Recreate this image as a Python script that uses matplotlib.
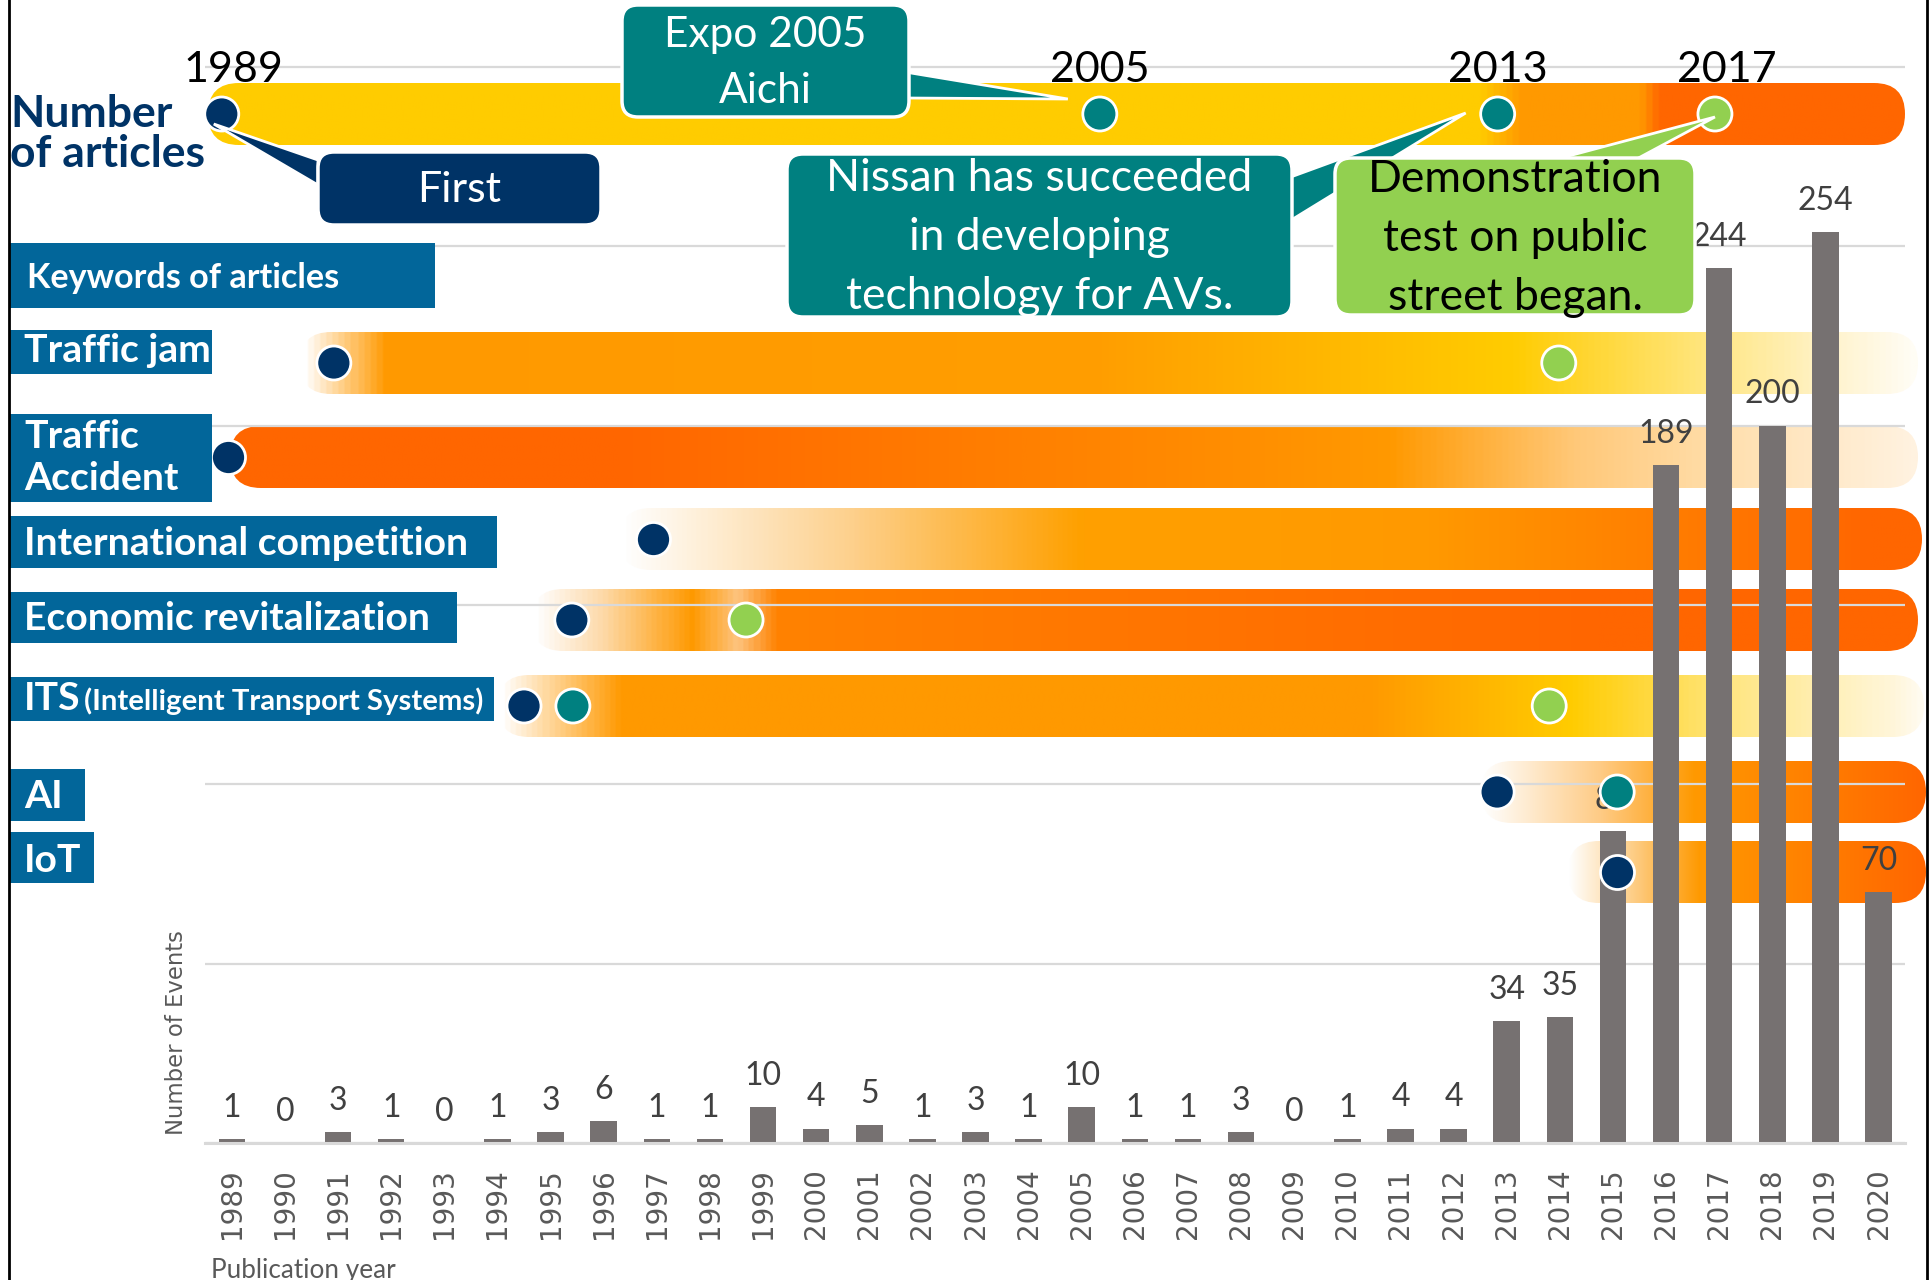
import matplotlib.pyplot as plt
import numpy as np
from matplotlib.patches import FancyBboxPatch, Rectangle, Polygon
from matplotlib.colors import LinearSegmentedColormap

plt.rcParams['font.family'] = ['Lato', 'DejaVu Sans']

# bar data: number of articles per publication year
years = list(range(1989, 2021))
counts = [1, 0, 3, 1, 0, 1, 3, 6, 1, 1, 10, 4, 5, 1, 3, 1, 10, 1, 1, 3, 0, 1, 4, 4,
          34, 35, 87, 189, 244, 200, 254, 70]

# timeline events (position on the year axis)
article_events = [1988.81, 2005.34, 2012.83, 2016.92]
article_kinds = ['first', 'event', 'event', 'demo']
article_labels = ['1989', '2005', '2013', '2017']

keyword_names = ['Traffic jam', 'Traffic\nAccident', 'International competition',
                 'Economic revitalization', 'ITS', 'AI', 'IoT']
keyword_events = [
    [1990.92, 2013.98],
    [1988.93],
    [1996.93],
    [1995.40, 1998.68],
    [1994.50, 1995.42, 2013.80],
    [2012.82, 2015.08],
    [2015.08],
]
keyword_kinds = [
    ['first', 'demo'],
    ['first'],
    ['first'],
    ['first', 'demo'],
    ['first', 'event', 'demo'],
    ['first', 'event'],
    ['first'],
]

NAVY = '#003366'
TEAL = '#008080'
GREEN = '#92D050'
BLUE = '#02669A'
YEL = '#FFCC00'
ORA = '#FF9900'
DARK = '#FF6600'
WHITE = '#FFFFFF'
KIND_COL = {'first': NAVY, 'event': TEAL, 'demo': GREEN}

W, H = 1932, 1280
fig = plt.figure(figsize=(W / 100, H / 100), dpi=100)


def frame_axes(z):
    a = fig.add_axes([0, 0, 1, 1], zorder=z)
    a.axis('off')
    return a


under = frame_axes(0)
ax = fig.add_axes([205.3 / W, 1 - 1143 / H, 1699.8 / W, 1143 / H], zorder=1)
over = frame_axes(2)

# ---- bar chart ----
ax.patch.set_visible(False)
ax.bar(years, counts, width=0.5, color='#767171', zorder=2)
ax.set_xlim(1988.5, 2020.5)
ax.set_ylim(0, 318.65)
ax.set_yticks(range(0, 301, 50))
ax.yaxis.grid(True, color='#D9D9D9', lw=1.6)
ax.set_axisbelow(True)
ax.tick_params(axis='y', length=0, labelleft=False)
ax.set_xticks(years)
ax.set_xticklabels([str(y) for y in years], rotation=90, fontsize=20,
                   color='#595959', family='DejaVu Sans')
ax.tick_params(axis='x', length=0, pad=18)
for s in ['top', 'right', 'left']:
    ax.spines[s].set_visible(False)
ax.spines['bottom'].set_color('#D9D9D9')
ax.spines['bottom'].set_linewidth(2.2)
for yr, c in zip(years, counts):
    ax.annotate(str(c), (yr, c), xytext=(0, 16), textcoords='offset points',
                ha='center', va='baseline', fontsize=23, color='#404040')
ax.set_ylabel('Number of Events', fontsize=16.4, color='#595959', family='DejaVu Sans')
ax.yaxis.set_label_coords(-0.0102, 0.097)
ax.set_xlabel('Publication year', fontsize=18.8, color='#595959', ha='left')
ax.xaxis.set_label_coords(0.0034, -0.1006)


def px(yr):
    return ax.transData.transform((yr, 0))[0]


# ---- gradient bands ----
def band(x0, x1, yc, stops, h=62):
    cmap = LinearSegmentedColormap.from_list(
        'b', [((x - x0) / (x1 - x0), c) for x, c in stops])
    grad = np.linspace(0, 1, 800).reshape(1, -1)
    im = under.imshow(grad, cmap=cmap, extent=(x0, x1, yc + h / 2, yc - h / 2),
                      aspect='auto', interpolation='bilinear')
    shape = FancyBboxPatch((x0, yc - h / 2), x1 - x0, h,
                           boxstyle=f'round,pad=0,rounding_size={h / 2}',
                           fc='none', ec='none')
    under.add_patch(shape)
    im.set_clip_path(shape)


row_y = [363, 457, 539, 620, 706, 792, 872]
article_y = 114

band(208, 1905, article_y, [(208, YEL), (1481, YEL), (1526, ORA), (1643, ORA),
                            (1663, DARK), (1905, DARK)])
band(300, 1918, row_y[0], [(300, WHITE), (383, ORA), (1100, '#FF9E00'), (1514, YEL),
                           (1710, '#FFE680'), (1843, '#FFF4D0'), (1918, '#FFFDF5')])
band(230, 1918, row_y[1], [(230, DARK), (616, DARK), (1150, '#FF8800'), (1392, ORA),
                           (1577, '#FFC878'), (1737, '#FFE0B0'), (1918, '#FFF2E0')])
band(620, 1922, row_y[2], [(620, WHITE), (850, '#FDD08C'), (1080, '#FFA000'),
                           (1431, ORA), (1872, DARK), (1922, DARK)])
band(532, 1918, row_y[3], [(532, WHITE), (600, '#FDD9A8'), (690, ORA), (735, '#FDC480'),
                           (775, '#FF8200'), (1600, DARK), (1918, DARK)])
band(498, 1924, row_y[4], [(498, WHITE), (619, ORA), (1369, ORA), (1573, YEL),
                           (1730, '#FFE680'), (1897, '#FFF6DA'), (1924, '#FFFBEF')])
band(1481, 1926, row_y[5], [(1481, WHITE), (1600, '#FECB85'), (1695, ORA), (1926, DARK)])
band(1568, 1926, row_y[6], [(1568, WHITE), (1640, '#FDC878'), (1700, ORA), (1926, DARK)])

# ---- dots ----
def dots(xs, kinds, yc):
    over.scatter([px(x) for x in xs], [yc] * len(xs), s=600,
                 c=[KIND_COL[k] for k in kinds], edgecolors='white',
                 linewidths=2, zorder=3)


dots(article_events, article_kinds, article_y)
for xs, ks, yc in zip(keyword_events, keyword_kinds, row_y):
    dots(xs, ks, yc)

for x, lab, nudge in zip(article_events, article_labels, [12, 0, 0, 12]):
    over.text(px(x) + nudge, 82, lab, ha='center', va='baseline', fontsize=31,
              color='black', zorder=6)

# ---- callouts ----
def callout(box, poly, color, text, tcolor, size=32, spacing=1.55):
    x0, y0, x1, y1 = box
    over.add_patch(Polygon(poly, closed=True, fc=color, ec='white', lw=2,
                           zorder=4, joinstyle='miter'))
    over.add_patch(FancyBboxPatch((x0, y0), x1 - x0, y1 - y0,
                                  boxstyle='round,pad=0,rounding_size=16',
                                  fc=color, ec='white', lw=2.5, zorder=5))
    over.text((x0 + x1) / 2, (y0 + y1) / 2 + 2, text, ha='center', va='center',
              color=tcolor, fontsize=size, linespacing=spacing, zorder=6)


e = [px(x) for x in article_events]
callout((318, 152, 601, 225), [(e[0] - 8, 124), (318, 160), (318, 185)],
        NAVY, 'First', 'white', 31)
callout((622, 5, 909, 117), [(905, 72), (905, 98), (e[1] - 32, 99)],
        TEAL, 'Expo 2005\nAichi', 'white', 30.5, 1.6)
callout((787, 154, 1292, 317), [(1288, 178), (1288, 222), (e[2] - 32, 113)],
        TEAL, 'Nissan has succeeded\nin developing\ntechnology for AVs.', 'white')
callout((1335, 158, 1695, 315), [(1546, 162), (1631, 162), (e[3], 117)],
        GREEN, 'Demonstration\ntest on public\nstreet began.', 'black')

# ---- left labels ----
over.text(10, 127, 'Number', fontsize=32, fontweight='bold', color=NAVY, va='baseline')
over.text(10, 167, 'of articles', fontsize=32, fontweight='bold', color=NAVY, va='baseline')


def label_box(x1, y0, y1):
    over.add_patch(Rectangle((10, y0), x1 - 10, y1 - y0, fc=BLUE, ec='none', zorder=5))


label_box(435, 243, 308)
over.text(27, 288, 'Keywords of articles', fontsize=24.6, fontweight='bold',
          color='white', va='baseline', zorder=6)

boxes = [(212, 330, 374), (212, 414, 502), (497, 516, 568), (457, 592, 643),
         (494, 677, 721), (85, 769, 821), (94, 832, 883)]
baselines = [362, 448, 555, 630, 710, 808, 872]
for name, (bx, by0, by1), bl in zip(keyword_names, boxes, baselines):
    label_box(bx, by0, by1)
    lines = name.split('\n')
    for i, ln in enumerate(lines):
        over.text(24, bl + i * 42, ln, fontsize=28.2, fontweight='bold',
                  color='white', va='baseline', zorder=6)
over.text(84, 710, '(Intelligent Transport Systems)', fontsize=21.2,
          fontweight='bold', color='white', va='baseline', zorder=6)

# frame lines
over.plot([9, 9], [0, H], color='black', lw=2, zorder=7)
over.plot([1927, 1927], [0, H], color='black', lw=2, zorder=7)

for a in (under, over):
    a.set_xlim(0, W)
    a.set_ylim(H, 0)

fig.savefig('out.png', dpi=100)
